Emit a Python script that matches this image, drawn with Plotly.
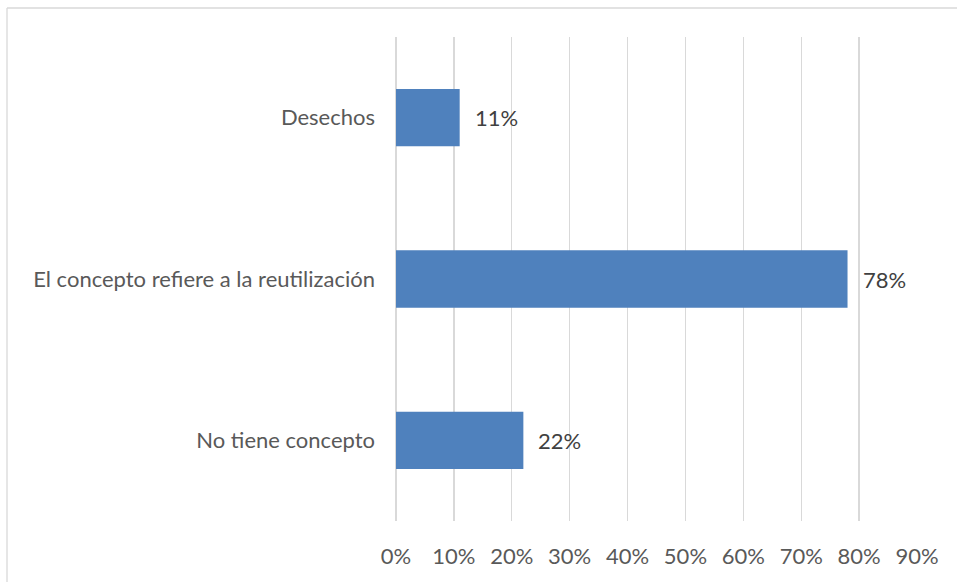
import plotly.graph_objects as go

categories = ["No tiene concepto", "El concepto refiere a la reutilización", "Desechos"]
values = [22, 78, 11]
value_labels = ["22%", "78%", "11%"]
tick_values = [0, 10, 20, 30, 40, 50, 60, 70, 80, 90]
tick_labels = ["0%", "10%", "20%", "30%", "40%", "50%", "60%", "70%", "80%", "90%"]

W, H = 957, 582
L, R, T, B = 396, 40, 37, 61
pw, ph = W - L - R, H - T - B
FONT = "Lato"
FS = 22

fig = go.Figure()
fig.add_trace(go.Bar(
    y=categories, x=values, orientation="h",
    marker=dict(color="#4F81BD", line=dict(width=0)),
    width=0.355, hoverinfo="skip",
))

for c, v, t in zip(categories, values, value_labels):
    fig.add_annotation(x=v, y=c, text=t, showarrow=False, xanchor="left",
                       xshift=13, font=dict(family=FONT, size=FS, color="#404040"))

# outer chart border (top + left visible)
bx = (7 - L) / pw
by = (H - B - 8) / ph
fig.add_shape(type="line", xref="paper", yref="paper", x0=bx, x1=2, y0=by, y1=by,
              line=dict(color="#D9D9D9", width=1.3))
fig.add_shape(type="line", xref="paper", yref="paper", x0=bx, x1=bx, y0=-2, y1=by,
              line=dict(color="#D9D9D9", width=1.3))

fig.update_layout(
    width=W, height=H,
    margin=dict(l=L, r=R, t=T, b=B, autoexpand=False),
    paper_bgcolor="white", plot_bgcolor="white",
    showlegend=False,
    font=dict(family=FONT, size=FS, color="#595959"),
    xaxis=dict(range=[0, 90], tickvals=tick_values, ticktext=tick_labels,
               showgrid=True, gridcolor="#D9D9D9", gridwidth=1.3,
               zeroline=True, zerolinecolor="#D9D9D9", zerolinewidth=1.3,
               showline=False, ticks="",
               ticklabelstandoff=20, fixedrange=True),
    yaxis=dict(showgrid=False, zeroline=False, showline=False, ticks="",
               ticklabelstandoff=20, fixedrange=True),
)

fig.write_html("out.html", config={"displayModeBar": False, "staticPlot": True},
               post_script="document.body.style.margin='0';")
